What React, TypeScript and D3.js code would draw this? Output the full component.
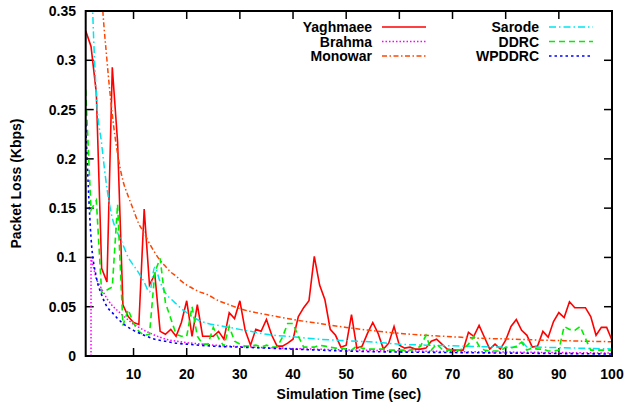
import React from "react";
import * as d3 from "d3";

const W = 627, H = 405;
const M = { left: 85.7, right: 612, top: 11, bottom: 356 };

const seconds = d3.range(1, 101);

const yaghmaee = [
  0.33, 0.314, 0.267, 0.089, 0.075, 0.293, 0.217, 0.052, 0.04, 0.034,
  0.032, 0.149, 0.072, 0.083, 0.025, 0.022, 0.027, 0.02, 0.034, 0.056,
  0.02, 0.052, 0.02, 0.02, 0.02, 0.025, 0.017, 0.044, 0.038, 0.056,
  0.026, 0.011, 0.027, 0.025, 0.037, 0.021, 0.01, 0.01, 0.013, 0.017,
  0.04, 0.049, 0.056, 0.101, 0.072, 0.057, 0.027, 0.021, 0.009, 0.011,
  0.042, 0.008, 0.01, 0.023, 0.034, 0.023, 0.007, 0.013, 0.03, 0.011,
  0.008, 0.009, 0.007, 0.007, 0.008, 0.015, 0.017, 0.012, 0.007, 0.006,
  0.006, 0.006, 0.024, 0.02, 0.031, 0.019, 0.007, 0.012, 0.007, 0.016,
  0.03, 0.037, 0.026, 0.021, 0.009, 0.01, 0.025, 0.019, 0.035, 0.044,
  0.039, 0.055, 0.049, 0.049, 0.049, 0.04, 0.021, 0.029, 0.029, 0.016,
];

const ddrc = [
  0.27, 0.148, 0.158, 0.064, 0.067, 0.07, 0.154, 0.031, 0.047, 0.033,
  0.025, 0.021, 0.022, 0.085, 0.099, 0.054, 0.038, 0.022, 0.02, 0.02,
  0.05, 0.02, 0.012, 0.012, 0.029, 0.018, 0.01, 0.03, 0.015, 0.012,
  0.01, 0.01, 0.011, 0.009, 0.011, 0.009, 0.009, 0.019, 0.033, 0.033,
  0.02, 0.009, 0.009, 0.009, 0.011, 0.01, 0.009, 0.008, 0.008, 0.007,
  0.006, 0.01, 0.008, 0.007, 0.007, 0.007, 0.007, 0.006, 0.006, 0.006,
  0.006, 0.006, 0.007, 0.01, 0.021, 0.006, 0.012, 0.007, 0.006, 0.006,
  0.006, 0.007, 0.012, 0.02, 0.01, 0.006, 0.005, 0.005, 0.005, 0.009,
  0.008, 0.01, 0.014, 0.006, 0.008, 0.007, 0.007, 0.005, 0.005, 0.006,
  0.03, 0.027, 0.026, 0.03, 0.018, 0.006, 0.006, 0.006, 0.006, 0.006,
];

const brahmaT = [2, 2, 3, 4, 5, 6, 8, 10, 12, 14, 16, 18, 20, 25, 30, 40, 50, 60, 70, 80, 90, 100];
const brahmaV = [0, 0.1, 0.078, 0.068, 0.058, 0.051, 0.041, 0.032, 0.026, 0.021, 0.017, 0.015, 0.0135, 0.011, 0.0095, 0.0075, 0.0062, 0.0052, 0.0045, 0.004, 0.0035, 0.003];

const monowarT = [1, 2, 3, 4, 5, 6, 7, 8, 9, 10, 11, 12, 13, 14, 15, 16, 17, 18, 19, 20, 21, 22, 24, 26, 28, 30, 33, 36, 40, 45, 50, 55, 60, 65, 70, 75, 80, 86, 90, 95, 100];
const monowarV = [1.4, 0.73, 0.5, 0.37, 0.3, 0.245, 0.205, 0.178, 0.162, 0.148, 0.134, 0.125, 0.114, 0.105, 0.097, 0.091, 0.085, 0.081, 0.076, 0.072, 0.069, 0.066, 0.062, 0.056, 0.052, 0.048, 0.044, 0.041, 0.037, 0.033, 0.029, 0.0257, 0.023, 0.021, 0.0195, 0.018, 0.0173, 0.0162, 0.0157, 0.015, 0.0145];

const sarodeT = [1, 2, 3, 4, 5, 6, 7, 8, 9, 10, 11, 12, 13, 14, 15, 16, 17, 18, 19, 20, 22, 24, 26, 28, 30, 32, 35, 40, 45, 50, 55, 60, 65, 70, 75, 80, 82, 83, 84, 90, 95, 100];
const sarodeV = [0.8, 0.42, 0.265, 0.215, 0.17, 0.14, 0.125, 0.113, 0.1, 0.092, 0.084, 0.075, 0.065, 0.09, 0.075, 0.064, 0.058, 0.053, 0.048, 0.044, 0.037, 0.033, 0.031, 0.029, 0.027, 0.025, 0.022, 0.0195, 0.017, 0.0155, 0.0142, 0.012, 0.011, 0.0103, 0.0095, 0.009, 0.0088, 0.0145, 0.0095, 0.0085, 0.0078, 0.0072];

const wpddrcT = [1, 2, 3, 4, 5, 6, 7, 8, 9, 10, 12, 14, 16, 18, 20, 25, 30, 35, 40, 50, 60, 70, 80, 90, 100];
const wpddrcV = [0.235, 0.12, 0.08, 0.062, 0.05, 0.044, 0.038, 0.033, 0.029, 0.026, 0.021, 0.017, 0.015, 0.013, 0.012, 0.01, 0.009, 0.008, 0.007, 0.005, 0.004, 0.0035, 0.003, 0.0025, 0.002];

const xTicks = [10, 20, 30, 40, 50, 60, 70, 80, 90, 100];
const yTicks = [0, 0.05, 0.1, 0.15, 0.2, 0.25, 0.3, 0.35];
const yTickLabels = ["0", "0.05", "0.1", "0.15", "0.2", "0.25", "0.3", "0.35"];

const FONT = "'Liberation Sans', Arial, Helvetica, sans-serif";

type S = { name: string; t: number[]; v: number[]; color: string; dash: string; width: number; col: number; row: number };

const series: S[] = [
  { name: "Yaghmaee", t: seconds, v: yaghmaee, color: "#ff0000", dash: "", width: 1.6, col: 0, row: 0 },
  { name: "Brahma", t: brahmaT, v: brahmaV, color: "#ff00ff", dash: "1.5,2", width: 1.5, col: 0, row: 1 },
  { name: "Monowar", t: monowarT, v: monowarV, color: "#ff4500", dash: "5,2.5,1.5,2.5", width: 1.5, col: 0, row: 2 },
  { name: "Sarode", t: sarodeT, v: sarodeV, color: "#00e5ee", dash: "7,3,1.5,3", width: 1.5, col: 1, row: 0 },
  { name: "DDRC", t: seconds, v: ddrc, color: "#00ee00", dash: "6,4", width: 1.6, col: 1, row: 1 },
  { name: "WPDDRC", t: wpddrcT, v: wpddrcV, color: "#0000ff", dash: "2.5,3", width: 1.6, col: 1, row: 2 },
];

export default function App() {
  const x = d3.scaleLinear().domain([1, 100]).range([M.left, M.right]);
  const y = d3.scaleLinear().domain([0, 0.35]).range([M.bottom, M.top]);
  const smooth = (s: S) => s.name !== "Yaghmaee" && s.name !== "DDRC" && s.name !== "Brahma";
  const mk = (s: S) =>
    d3
      .line<number>()
      .x((_, i) => x(s.t[i]))
      .y((d) => y(d))
      .curve(smooth(s) ? d3.curveMonotoneX : d3.curveLinear)(s.v) || "";

  const legendCols = [
    { textX: 372, lineX1: 382, lineX2: 426 },
    { textX: 539, lineX1: 549, lineX2: 593 },
  ];
  const legendRows = [27, 41.5, 56];

  return (
    <svg width={W} height={H} style={{ position: "fixed", left: 0, top: 0, background: "#fff" }} fontFamily={FONT} fontWeight="bold" fontSize={14}>
      <defs>
        <clipPath id="plot">
          <rect x={M.left} y={M.top} width={M.right - M.left} height={M.bottom - M.top} />
        </clipPath>
      </defs>
      <rect x={0} y={0} width={W} height={H} fill="#fff" />
      {/* ticks */}
      {xTicks.map((t) => (
        <g key={"xt" + t}>
          <line x1={x(t)} x2={x(t)} y1={M.bottom} y2={M.bottom - 8} stroke="#000" strokeWidth={1.5} />
          <line x1={x(t)} x2={x(t)} y1={M.top} y2={M.top + 8} stroke="#000" strokeWidth={1.5} />
          <text x={x(t)} y={379} textAnchor="middle" fill="#000">{t}</text>
        </g>
      ))}
      {yTicks.map((t, i) => (
        <g key={"yt" + t}>
          <line x1={M.left} x2={M.left + 8} y1={y(t)} y2={y(t)} stroke="#000" strokeWidth={1.5} />
          <line x1={M.right} x2={M.right - 8} y1={y(t)} y2={y(t)} stroke="#000" strokeWidth={1.5} />
          <text x={76} y={y(t) + 5} textAnchor="end" fill="#000">{yTickLabels[i]}</text>
        </g>
      ))}
      {/* series */}
      <g clipPath="url(#plot)">
        {series.map((s) => (
          <path key={s.name} d={mk(s)} fill="none" stroke={s.color} strokeWidth={s.width} strokeDasharray={s.dash || undefined} strokeLinejoin="miter" />
        ))}
      </g>
      {/* frame */}
      <rect x={M.left} y={M.top} width={M.right - M.left} height={M.bottom - M.top} fill="none" stroke="#000" strokeWidth={2} />
      {/* legend */}
      {series.map((s) => {
        const c = legendCols[s.col];
        const yy = legendRows[s.row];
        return (
          <g key={"lg" + s.name}>
            <text x={c.textX} y={yy + 5} textAnchor="end" fill="#000">{s.name}</text>
            <line x1={c.lineX1} x2={c.lineX2} y1={yy} y2={yy} stroke={s.color} strokeWidth={s.width} strokeDasharray={s.dash || undefined} />
          </g>
        );
      })}
      {/* axis titles */}
      <text x={(M.left + M.right) / 2} y={399} textAnchor="middle" fill="#000">Simulation Time (sec)</text>
      <text transform={`translate(21,${(M.top + M.bottom) / 2}) rotate(-90)`} textAnchor="middle" fill="#000">Packet Loss (Kbps)</text>
    </svg>
  );
}
